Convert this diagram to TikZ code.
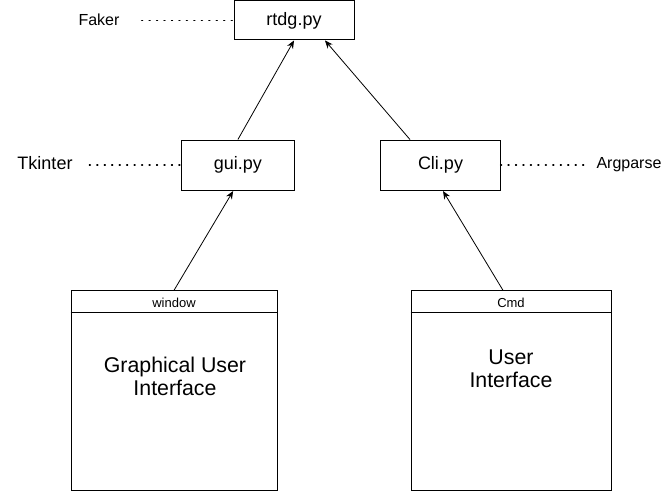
\documentclass[tikz,border=0pt]{standalone}
\usepackage{fontspec}
\setmainfont{Liberation Sans}
\usetikzlibrary{arrows.meta}
\tikzset{
  box/.style={draw, line width=0.75pt, inner sep=0pt, font=\fontsize{13.5pt}{16pt}\selectfont},
  lbl/.style={inner sep=0pt},
  dotline/.style={line width=1.2pt, dash pattern=on 0.6pt off 5pt, line cap=round},
  arr/.style={line width=0.6pt, -{Stealth[length=6pt,width=5pt]}},
  hdr/.style={inner sep=0pt, font=\fontsize{9.75pt}{11pt}\selectfont},
  body/.style={inner sep=0pt, align=center, font=\fontsize{16pt}{17.3pt}\selectfont}
}
\begin{document}
\begin{tikzpicture}[x=0.75pt,y=-0.75pt]
\useasboundingbox (0,0) rectangle (671,491);
% boxes
\node[box, minimum width=90pt, minimum height=29.25pt] (rtdg) at (294,20.5) {rtdg.py};
\node[box, minimum width=84.4pt, minimum height=37.9pt] (gui) at (237.9,165.3) {gui.py};
\node[box, minimum width=89.5pt, minimum height=37.9pt] (cli) at (440.5,165.3) {Cli.py};
\node[box, minimum width=154.5pt, minimum height=149.5pt] (win) at (174,390.5) {};
\node[box, minimum width=150pt, minimum height=149.5pt] (cmd) at (511,390.5) {};
% headers
\draw[line width=0.75pt] ([yshift=-16.5pt]win.north west) -- ([yshift=-16.5pt]win.north east);
\draw[line width=0.75pt] ([yshift=-16.5pt]cmd.north west) -- ([yshift=-16.5pt]cmd.north east);
\node[hdr] (winh) at (174,303) {window};
\node[hdr] (cmdh) at (511,303) {Cmd};
\node[body] (wint) at (175,376) {Graphical User\\Interface};
\node[body] (cmdt) at (511,369) {User\\Interface};
% side labels
\node[lbl, font=\fontsize{12pt}{14pt}\selectfont] (faker) at (99,20) {Faker};
\node[lbl, font=\fontsize{13.5pt}{16pt}\selectfont] (tk) at (45,163) {Tkinter};
\node[lbl, font=\fontsize{12pt}{14pt}\selectfont] (argp) at (629,165) {Argparse};
% dotted links
\draw[dotline] ([xshift=16.5pt]faker.east |- rtdg.west) -- (rtdg.west);
\draw[dotline] ([xshift=12.5pt]tk.east |- gui.west) -- (gui.west);
\draw[dotline] (cli.east) -- ([xshift=-7pt]argp.west |- cli.east);
% arrows
\draw[arr] (gui.north) -- (rtdg.south);
\draw[arr] ([xshift=-22.9pt]cli.north) -- ([xshift=23.25pt]rtdg.south);
\draw[arr] (win.north) -- ([xshift=-3.6pt]gui.south);
\draw[arr] ([xshift=-6pt]cmd.north) -- ([xshift=1.9pt]cli.south);
\end{tikzpicture}
\end{document}
